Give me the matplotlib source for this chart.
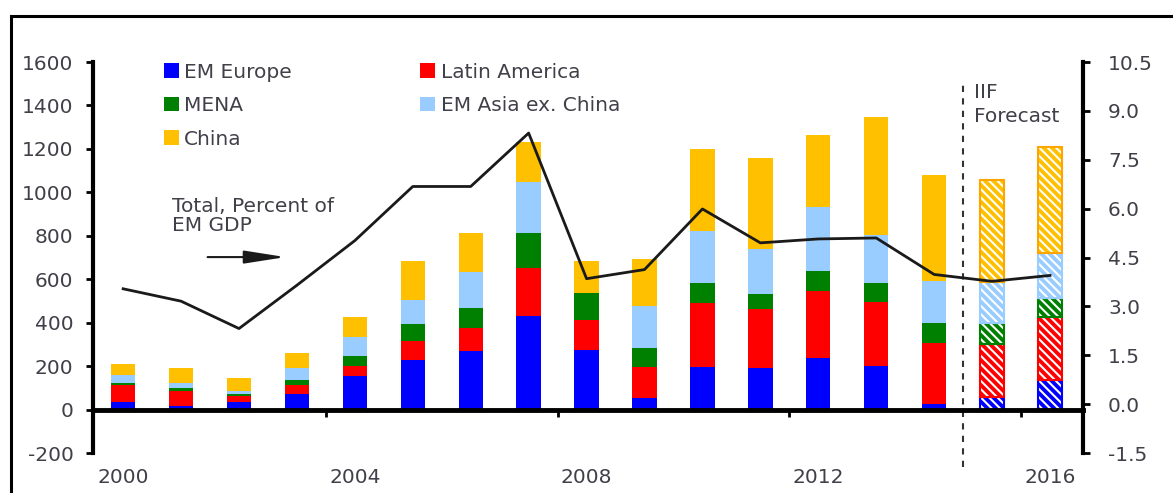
import numpy as np
import matplotlib
matplotlib.use("Agg")
import matplotlib.pyplot as plt
from matplotlib.patches import Rectangle, Patch

plt.rcParams["font.family"] = ["DejaVu Sans"]
plt.rcParams["hatch.linewidth"] = 1.5
plt.rcParams["axes.unicode_minus"] = False

# data (USD bn, stacked) and total as percent of EM GDP
years = list(range(2000, 2017))
em_europe = [36, 16, 36, 71, 154, 228, 269, 430, 274, 52, 197, 190, 239, 202, 25, 59, 136]
latin_america = [77, 71, 26, 42, 46, 89, 105, 220, 138, 145, 292, 273, 308, 294, 280, 243, 288]
mena = [8, 11, 8, 23, 46, 77, 92, 161, 126, 85, 95, 67, 91, 88, 95, 95, 88]
em_asia = [38, 23, 17, 54, 86, 110, 166, 235, -10, 196, 238, 209, 296, 219, 193, 191, 207]
china = [49, 69, 57, 69, 95, 181, 179, 187, 147, 214, 376, 420, 330, 542, 487, 469, 491]
total_pct_gdp = [3.54, 3.16, 2.32, 3.65, 5.02, 6.68, 6.68, 8.32, 3.85, 4.13, 5.99,
                 4.95, 5.07, 5.10, 3.98, 3.77, 3.95]
forecast_years = [2015, 2016]
forecast_start = 2014.5

series = [
    ("EM Europe", em_europe, "#0000FF", "#0000FF"),
    ("Latin America", latin_america, "#FF0000", "#FF0000"),
    ("MENA", mena, "#008000", "#008000"),
    ("EM Asia ex. China", em_asia, "#99CCFF", "#99CCFF"),
    ("China", china, "#FFC000", "#FFA500"),
]

text_col = "#404048"
fs = 14.5

fig = plt.figure(figsize=(11.73, 4.93), dpi=100)
ax = fig.add_axes([0.0793, 0.0811, 0.8440, 0.7931])
ax2 = ax.twinx()

x = np.array(years)
is_fc = np.isin(x, forecast_years)
pos_bottom = np.zeros(len(x))
neg_bottom = np.zeros(len(x))
width = 0.42
for name, vals, col, edge in series:
    v = np.array(vals, dtype=float)
    bottom = np.where(v >= 0, pos_bottom, neg_bottom)
    ax.bar(x[~is_fc], v[~is_fc], width, bottom=bottom[~is_fc], color=col, linewidth=0)
    ax.bar(x[is_fc], v[is_fc], width, bottom=bottom[is_fc], facecolor=col,
           edgecolor="white", hatch="\\\\\\\\", linewidth=0)
    ax.bar(x[is_fc], v[is_fc], width, bottom=bottom[is_fc], facecolor="none",
           edgecolor=edge, linewidth=1.5)
    pos_bottom += np.where(v >= 0, v, 0)
    neg_bottom += np.where(v < 0, v, 0)

ax2.plot(x, total_pct_gdp, color="#1a1a1a", lw=2)

ax.set_xlim(1999.48, 2016.57)
ax.set_ylim(-200, 1600)
ax2.set_ylim(-1.5, 10.5)
ax.set_yticks(np.arange(-200, 1601, 200))
ax2.set_yticks(np.arange(-1.5, 10.6, 1.5))
ax2.set_yticklabels([f"{t:.1f}" for t in np.arange(-1.5, 10.6, 1.5)])

ax.set_xticks([2000, 2004, 2008, 2012, 2016])
ax.set_xticks([2003.5, 2007.5, 2011.5, 2015.5], minor=True)
ax.spines["bottom"].set_position(("data", 0))
ax.spines["bottom"].set_linewidth(3.5)
ax.spines["bottom"].set_zorder(5)
for a in (ax, ax2):
    a.spines["top"].set_visible(False)
ax.spines["right"].set_visible(False)
ax2.spines["left"].set_visible(False)
ax2.spines["bottom"].set_visible(False)
ax.spines["left"].set_linewidth(3)
ax2.spines["right"].set_linewidth(3)

ax.tick_params(axis="x", which="major", length=0, pad=42, labelsize=fs, labelcolor=text_col)
ax.tick_params(axis="x", which="minor", length=5, width=2, direction="out")
ax.tick_params(axis="y", length=5, width=2, pad=9, labelsize=fs, labelcolor=text_col)
ax2.tick_params(axis="y", length=5, width=2, pad=13, labelsize=fs, labelcolor=text_col)

# forecast divider
ax.plot([forecast_start, forecast_start], [-265, 1494], ls=(0, (3, 3)), color="#333333",
        lw=1.5, clip_on=False, zorder=4)
ax.text(2014.69, 1405, "IIF\nForecast", fontsize=fs, color=text_col, ha="left", va="center",
        linespacing=1.3)

ax.text(2000.84, 891, "Total, Percent of\nEM GDP", fontsize=fs, color=text_col,
        ha="left", va="center", linespacing=1.05)
ax.annotate("", xy=(2002.85, 702), xytext=(2001.41, 702),
            arrowprops=dict(arrowstyle="-|>,head_length=1.4,head_width=0.22",
                            color="#1a1a1a", lw=1.5, mutation_scale=18))

order = [0, 2, 4, 1, 3]
handles = [Patch(facecolor=series[i][2], label=series[i][0]) for i in order]
ax.legend(handles=handles, ncol=2, frameon=False, fontsize=fs, labelcolor=text_col,
          loc="upper left", bbox_to_anchor=(0.053, 1.045), handlelength=0.75,
          handleheight=0.75, handletextpad=0.25, columnspacing=6.4, labelspacing=0.72)

# outer frame
fig.patches.append(Rectangle((11 / 1173, -0.1), 1.2, 1.1 - 16 / 493, transform=fig.transFigure,
                             fill=False, lw=2.2, ec="black"))

fig.savefig("out.png", dpi=100)
